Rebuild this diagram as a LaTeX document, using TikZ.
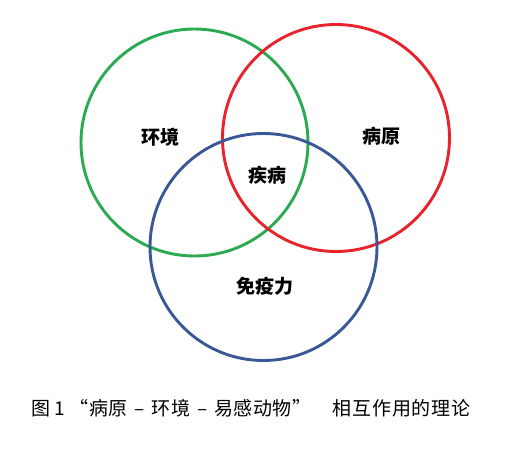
\documentclass[tikz,border=0pt]{standalone}
\usepackage{fontspec}
\newfontfamily\cjk{Noto Sans CJK SC}
\definecolor{vgreen}{HTML}{2BAA52}
\definecolor{vred}{HTML}{E8232B}
\definecolor{vblue}{HTML}{3A5896}
\begin{document}
\begin{tikzpicture}[x=1pt,y=-1pt,
  ring/.style={circle,draw,line width=2.9pt,minimum size=227pt,inner sep=0pt},
  lab/.style={font=\cjk\bfseries\fontsize{19}{22}\selectfont,inner sep=0pt},
  captext/.style={font=\cjk\fontsize{19}{22}\selectfont,inner sep=0pt,anchor=base west}]
\useasboundingbox (0,0) rectangle (517,448);
\fill[white] (0,0) rectangle (517,448);
\node[ring,draw=vgreen] (g) at (194.5,142.5) {};
\node[ring,draw=vred] (r) at (336,138) {};
\node[ring,draw=vblue] (b) at (263.5,247) {};
\node[lab] (env) at (160,137.5) {环境};
\node[lab] (path) at (381.5,136.5) {病原};
\node[lab] (dis) at (267,175) {疾病};
\node[lab] (imm) at (265,286.5) {免疫力};
\node[captext] (c1) at (31,415) {图};
\node[captext] (c2) at (54,415) {1};
\node[captext,anchor=base east] (q1) at (89,415) {“};
\node[captext] (c3) at (89,415) {\addfontfeature{LetterSpace=2}病原\hspace{7pt}–\hspace{7pt}环境\hspace{7pt}–\hspace{7pt}易感动物};
\node[captext] (q2) at ([xshift=1pt]c3.base east) {”};
\node[captext] (c4) at (332,415) {\addfontfeature{LetterSpace=5}相互作用的理论};
\end{tikzpicture}
\end{document}
